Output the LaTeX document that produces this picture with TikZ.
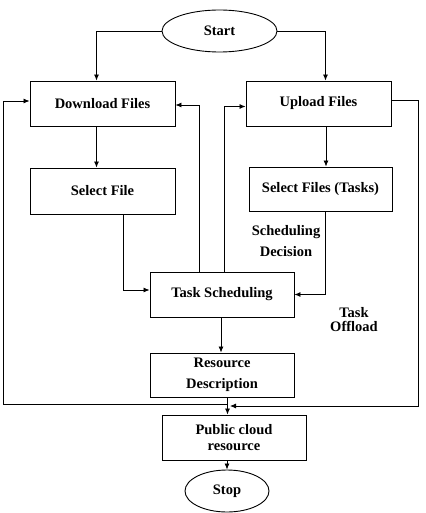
\documentclass[tikz,border=0pt]{standalone}
\usepackage{fontspec}
\setmainfont{Liberation Serif}
\usetikzlibrary{positioning,shapes.geometric,arrows.meta,calc}
\tikzset{
  >={Latex[length=6pt,width=5pt]},
  every node/.style={font=\fontsize{14.5}{16}\selectfont\bfseries},
  % --- nodes
  box/.style  = {draw, line width=0.9pt, minimum width=145pt, minimum height=45pt,
                 align=center, inner sep=2pt},
  term/.style = {draw, ellipse, line width=0.9pt, inner sep=0pt},
  lbl/.style  = {align=center, inner sep=0pt},
  % --- edges
  flow/.style = {->, line width=0.8pt},
  wire/.style = {line width=0.8pt},
}

\begin{document}
\begin{tikzpicture}[x=1pt, y=-1pt]
  \useasboundingbox (0,0) rectangle (425,513);

  % ------------------------------------------------------------------ nodes
  \node[term, minimum width=115pt, minimum height=42pt] (start) at (219.5,31) {Start};
  \node[box] (down) at (102.5,103.5) {Download Files};
  \node[box] (up)   at (318.5,103.5) {Upload Files};
  \node[box, minimum height=46pt] (sel) at (102.5,191) {Select File};
  \node[box, minimum width=143pt, minimum height=44pt] (selt) at (320.5,189) {Select Files (Tasks)};
  \node[box, minimum width=144pt] (sched) at (222,294.5) {Task Scheduling};
  \node[box, minimum width=144pt, minimum height=44pt] (res) at (222,375)
    {Resource\\[5pt]Description};
  \node[box, minimum width=144pt] (cloud) at (234,437.5) {Public cloud\\resource};
  \node[term, minimum width=84pt, minimum height=42pt] (stop) at (227,491) {Stop};

  % ------------------------------------------------------------------ labels
  \node[lbl] (decision) at (286,241.5) {Scheduling\\[5pt]Decision};
  \node[lbl] (offload)  at (354,320) {Task\\[-2pt]Offload};

  % ------------------------------------------------------------------ merge points
  \coordinate (mrg)  at (227.5,404);
  \coordinate (botL) at (3,404);
  \coordinate (botR) at (418,406);
  \coordinate (mrgR) at (230,406);

  % ------------------------------------------------------------------ main flow
  \draw[flow] (start.west) -| ([xshift=-6pt]down.north);
  \draw[flow] (start.east) -| ([xshift=7pt]up.north);
  \draw[flow] ([xshift=-6pt]down.south) -- ([xshift=-6pt]sel.north);
  \draw[flow] ([xshift=7.5pt]up.south) -- ([xshift=5.5pt]selt.north);
  \draw[flow] ([xshift=20.5pt]sel.south) |- ([yshift=4.5pt]sched.west);
  \draw[flow] ([xshift=4.5pt]selt.south) |- (sched.east);
  \draw[flow] ([xshift=-1pt]sched.south) -- ([xshift=-1pt]res.north);
  \draw[flow] ([xshift=5.5pt]res.south) -- ([xshift=-6.5pt]cloud.north);
  \draw[flow] ([xshift=-7pt]cloud.south) -- (stop.north);

  % ------------------------------------------------------------------ feedback
  \draw[flow] ([xshift=-23pt]sched.north) |- ([yshift=-1.5pt]down.east);
  \draw[flow] ([xshift=2pt]sched.north) |- ([yshift=-3pt]up.west);
  \draw[flow] (mrg) -- (botL) |- ([yshift=2.5pt]down.west);
  \draw[flow] ([yshift=3.5pt]up.east) -| (botR) -- (mrgR);
\end{tikzpicture}
\end{document}
